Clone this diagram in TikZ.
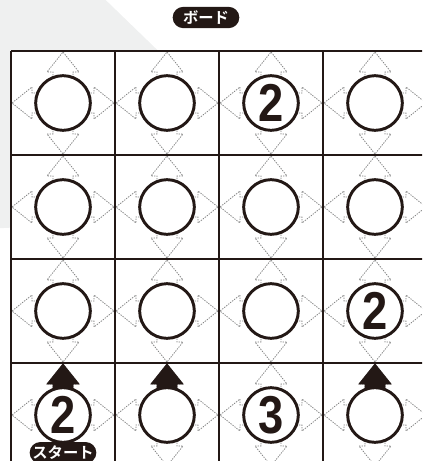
\documentclass[tikz,border=0pt]{standalone}
\usepackage{fontspec}
\setmainfont{Liberation Sans}
\newfontfamily\jpfont{Noto Sans CJK JP}[BoldFont={Noto Sans CJK JP Bold}]
\usepackage{graphicx}
\usepackage{tikz}
\usetikzlibrary{shapes.misc, positioning, calc}
\definecolor{inkblack} {HTML}{231815}
\definecolor{paperbg}  {HTML}{EFF0F0}
\definecolor{hintgrey} {HTML}{7A7B7B}
\tikzset{
  cellring/.style={
    circle, draw=inkblack, fill=white, line width=2.2pt,
    minimum size=41pt, inner sep=0pt
  },
  digit/.style={
    inner sep=0pt, text=inkblack,
    font=\fontsize{40}{40}\selectfont\bfseries
  },
  gridline/.style={draw=inkblack, line width=2pt},
  hintarrow/.style={draw=hintgrey, line width=0.55pt,
    dash pattern=on 1pt off 0.9pt},
  goarrow/.style={fill=inkblack, draw=inkblack, line width=0.6pt},
  tagpill/.style={
    rounded rectangle, fill=inkblack, text=white,
    minimum width=50pt, minimum height=16pt, inner sep=0pt,
    font=\jpfont\fontsize{11.5}{11.5}\selectfont\bfseries
  }
}
\newcommand\arrowoutline{(25,-10) -- (31,-10) -- (31,-16) -- (51,0)
  -- (31,16) -- (31,10) -- (25,10) -- cycle}

\begin{document}
\begin{tikzpicture}[x=0.75pt, y=-0.75pt]

  \clip (0,0) rectangle (422,461);
  \fill[paperbg, rounded corners=12pt]
    (-20,-20) -- (85,-20) -- (240,130) -- (20,228) -- (-20,228) -- cycle;
  \fill[white] (11,51) rectangle (480,520);

  \node[tagpill] (board) at (206,17.5) {ボード};

  \foreach \r in {1,...,4}{
    \foreach \c in {1,...,4}{
      \coordinate (p-\r-\c) at (63+104*\c-104, 103+104*\r-104);
      \foreach \a in {0,90,180,270}{
        \draw[hintarrow, shift={(p-\r-\c)}, rotate=\a] \arrowoutline;
      }
    }
  }

  \foreach \c in {1,2,4}{
    \fill[goarrow, shift={(p-4-\c)}, rotate=90] \arrowoutline;
  }

  \foreach \i in {0,...,4}{
    \draw[gridline] (11+104*\i,51) -- (11+104*\i,520);
    \draw[gridline] (11,51+104*\i) -- (520,51+104*\i);
  }

  \foreach \r in {1,...,4}{
    \foreach \c in {1,...,4}{
      \node[cellring] (cell-\r-\c) at (p-\r-\c) {};
    }
  }

  \foreach \r/\c/\n in {1/3/2, 3/4/2, 4/1/2, 4/3/3}{
    \node[digit] (num-\r-\c) at (cell-\r-\c) {\scalebox{0.85}[1]{\n}};
  }

  \node[tagpill, below=-1.5pt of cell-4-1] (start) {スタート};

\end{tikzpicture}
\end{document}
